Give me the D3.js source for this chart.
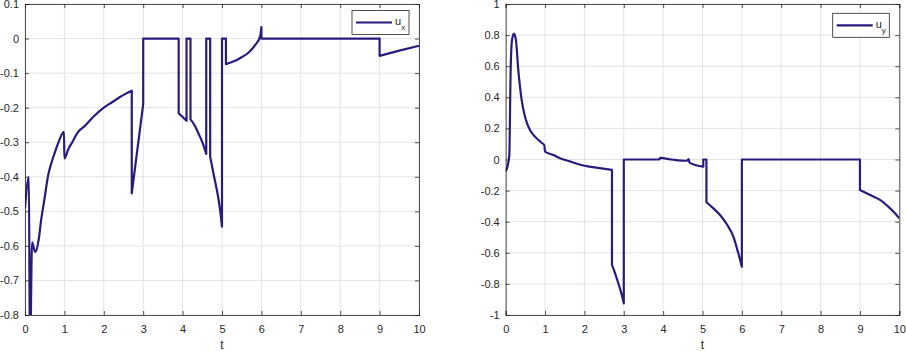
<!DOCTYPE html>
<html>
<head>
<meta charset="utf-8">
<script src="https://cdn.jsdelivr.net/npm/d3@7"></script>
<style>
  body { margin: 0; background: #fff; }
  svg { display: block; font-family: "Liberation Sans", Arial, sans-serif; }
</style>
</head>
<body>
<div id="chart"></div>
<script>
// time samples and values (vertical jumps use repeated t)
const uxT = [0, 0.1, 0.125, 0.18, 0.26, 0.35, 0.41, 0.5, 0.58, 0.67, 0.75, 0.85, 0.99, 1.0,
  1.1, 1.2, 1.35, 1.5, 1.75, 2.0, 2.2, 2.4, 2.55, 2.71, 2.71, 3.0, 3.0, 3.9, 3.9, 4.1, 4.1,
  4.2, 4.2, 4.3, 4.4, 4.5, 4.6, 4.6, 4.7, 4.7, 4.8, 4.9, 4.95, 5.0, 5.0, 5.1, 5.1, 5.3,
  5.5, 5.67, 5.84, 5.97, 6.0, 6.0, 9.0, 9.0, 9.5, 10];
const ux = [-0.49, -0.40, -0.95, -0.59, -0.618, -0.58, -0.525, -0.46, -0.40, -0.36, -0.332,
  -0.30, -0.27, -0.347, -0.32, -0.30, -0.27, -0.255, -0.225, -0.20, -0.185, -0.17, -0.16,
  -0.151, -0.448, -0.19, 0, 0, -0.216, -0.238, 0, 0, -0.234, -0.25, -0.274, -0.30, -0.334,
  0, 0, -0.342, -0.40, -0.457, -0.495, -0.544, 0, 0, -0.074, -0.066, -0.054, -0.041, -0.019,
  0.007, 0.033, 0, 0, -0.05, -0.035, -0.021];

const uyT = [0, 0.09, 0.126, 0.16, 0.21, 0.26, 0.32, 0.405, 0.49, 0.617, 0.744, 0.91, 0.98,
  1.0, 1.21, 1.38, 1.6, 2.0, 2.3, 2.7, 2.7, 2.78, 2.86, 2.95, 3.0, 3.0, 3.9, 3.92, 4.22,
  4.6, 4.65, 4.67, 5.02, 5.02, 5.1, 5.1, 5.275, 5.445, 5.614, 5.784, 5.91, 6.0, 6.0, 9.0,
  9.0, 9.26, 9.51, 9.72, 9.89, 10];
const uy = [-0.078, 0.018, 0.576, 0.768, 0.81, 0.768, 0.576, 0.383, 0.275, 0.19, 0.147,
  0.108, 0.093, 0.05, 0.029, 0.008, -0.01, -0.04, -0.052, -0.067, -0.678, -0.732, -0.796,
  -0.871, -0.925, 0, 0, 0.01, 0.0, -0.008, 0.003, -0.02, -0.046, 0, 0, -0.275, -0.314,
  -0.357, -0.415, -0.496, -0.603, -0.689, 0, 0, -0.196, -0.228, -0.26, -0.303, -0.346, -0.378];

const tTicks = [0, 1, 2, 3, 4, 5, 6, 7, 8, 9, 10];
const uxTicks = [0.1, 0, -0.1, -0.2, -0.3, -0.4, -0.5, -0.6, -0.7, -0.8];
const uyTicks = [1, 0.8, 0.6, 0.4, 0.2, 0, -0.2, -0.4, -0.6, -0.8, -1];

const W = 906, H = 351;
const lineColor = "#2a1b7a";
const axisColor = "#262626";

const svg = d3.select("#chart").append("svg")
    .attr("width", W)
    .attr("height", H);

// split at repeated t (vertical jumps) so each piece can be smoothed on its own
function segments(t, v) {
    const segs = [];
    let cur = [];
    t.forEach((tt, i) => {
        if (i > 0 && tt === t[i - 1]) {
            segs.push(cur);
            cur = [];
        }
        cur.push([tt, v[i]]);
    });
    segs.push(cur);
    return segs;
}

function drawPanel(cfg) {
    const x = d3.scaleLinear().domain([0, 10]).range([cfg.x0, cfg.x1]);
    const y = d3.scaleLinear().domain(cfg.yDomain).range([315, 4]);
    const g = svg.append("g");

    // grid
    g.append("g").selectAll("line").data(tTicks).join("line")
        .attr("x1", d => x(d)).attr("x2", d => x(d))
        .attr("y1", y.range()[0]).attr("y2", y.range()[1])
        .attr("stroke", "#e3e3e3");
    g.append("g").selectAll("line").data(cfg.yTicks).join("line")
        .attr("y1", d => y(d)).attr("y2", d => y(d))
        .attr("x1", cfg.x0).attr("x2", cfg.x1)
        .attr("stroke", "#e3e3e3");

    // data line
    const clipId = "clip-" + cfg.name;
    g.append("clipPath").attr("id", clipId).append("rect")
        .attr("x", cfg.x0).attr("y", 4)
        .attr("width", cfg.x1 - cfg.x0).attr("height", 311);

    const line = d3.line().x(d => x(d[0])).y(d => y(d[1])).curve(d3.curveMonotoneX);
    const d = segments(cfg.t, cfg.v)
        .map((s, i) => i === 0 ? line(s) : "L" + line(s).slice(1))
        .join("");
    g.append("path")
        .attr("clip-path", `url(#${clipId})`)
        .attr("fill", "none")
        .attr("stroke", lineColor)
        .attr("stroke-width", 2.2)
        .attr("stroke-linejoin", "round")
        .attr("d", d);

    // axes, ticks inside
    const fmt = d => String(d);
    const axes = [
        g.append("g").attr("transform", "translate(0,315)")
            .call(d3.axisBottom(x).tickValues(tTicks).tickSize(-4).tickPadding(10).tickFormat(fmt)),
        g.append("g").attr("transform", "translate(0,4)")
            .call(d3.axisTop(x).tickValues(tTicks).tickSize(-4).tickFormat("")),
        g.append("g").attr("transform", `translate(${cfg.x0},0)`)
            .call(d3.axisLeft(y).tickValues(cfg.yTicks).tickSize(-4).tickPadding(6).tickFormat(fmt)),
        g.append("g").attr("transform", `translate(${cfg.x1},0)`)
            .call(d3.axisRight(y).tickValues(cfg.yTicks).tickSize(-4).tickFormat(""))
    ];
    axes.forEach(a => {
        a.select(".domain").attr("stroke", axisColor).attr("stroke-width", 0.8);
        a.selectAll(".tick line").attr("stroke", axisColor).attr("stroke-width", 0.8);
        a.selectAll("text").attr("font-size", "11px").attr("fill", axisColor)
            .attr("font-family", "Liberation Sans, Arial, sans-serif");
    });

    g.append("text")
        .attr("x", (cfg.x0 + cfg.x1) / 2)
        .attr("y", 349)
        .attr("text-anchor", "middle")
        .attr("font-size", "12px")
        .attr("fill", axisColor)
        .text("t");

    // legend
    const lg = cfg.legend;
    g.append("rect")
        .attr("x", lg.x).attr("y", lg.y)
        .attr("width", lg.w).attr("height", lg.h)
        .attr("fill", "#fff")
        .attr("stroke", axisColor).attr("stroke-width", 0.8);
    g.append("line")
        .attr("x1", lg.x + 4).attr("x2", lg.x + 40)
        .attr("y1", lg.y + lg.h / 2).attr("y2", lg.y + lg.h / 2)
        .attr("stroke", lineColor).attr("stroke-width", 2.2);
    const lt = g.append("text")
        .attr("x", lg.x + 43).attr("y", lg.y + lg.h / 2 + 2.5)
        .attr("font-size", "11px").attr("fill", axisColor);
    lt.append("tspan").text("u");
    lt.append("tspan").attr("dy", 5).attr("font-size", "8px").text(cfg.sub);
}

drawPanel({
    name: "ux", x0: 25, x1: 419, yDomain: [-0.8, 0.1], yTicks: uxTicks,
    t: uxT, v: ux, sub: "x",
    legend: { x: 352, y: 10.5, w: 57, h: 24 }
});

drawPanel({
    name: "uy", x0: 505.7, x1: 899.3, yDomain: [-1, 1], yTicks: uyTicks,
    t: uyT, v: uy, sub: "y",
    legend: { x: 832.7, y: 13.3, w: 56.6, h: 24 }
});
</script>
</body>
</html>
